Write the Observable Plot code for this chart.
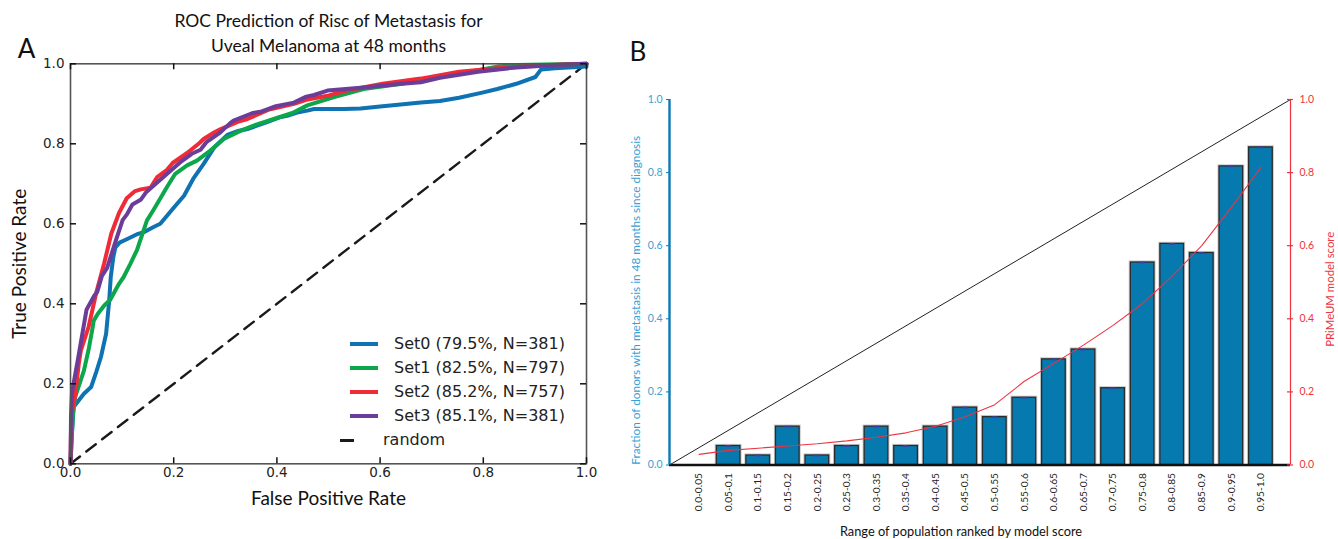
<!DOCTYPE html>
<html><head><meta charset="utf-8">
<script src="https://cdn.jsdelivr.net/npm/d3@7"></script>
<script src="https://cdn.jsdelivr.net/npm/@observablehq/plot@0.6"></script>
<style>
html,body{margin:0;padding:0;background:#fff;}
#wrap{position:relative;width:1338px;height:539px;overflow:hidden;background:#fff;}
#a{position:absolute;left:0;top:0;}
#b{position:absolute;left:600px;top:0;}
#legend{position:absolute;left:0;top:0;font-family:"DejaVu Sans";font-size:16px;color:#222;}
.row{position:absolute;height:20px;line-height:20px;white-space:nowrap;}
.sw{position:absolute;top:8px;height:4px;}
</style></head><body>
<div id="wrap"><div id="a"></div><div id="b"></div><div id="legend"></div></div>
<script>
// ---------- Panel A: ROC curves ----------
const setNames = ["Set0", "Set1", "Set2", "Set3"];
const setLabels = ["Set0 (79.5%, N=381)", "Set1 (82.5%, N=797)", "Set2 (85.2%, N=757)", "Set3 (85.1%, N=381)"];
const setColors = ["#0f72b3", "#0ca64b", "#ee2b37", "#6b3d99"];

const fpr0 = [0, 0.003, 0.006, 0.026, 0.04, 0.05, 0.059, 0.069, 0.075, 0.078, 0.083, 0.087, 0.095, 0.11, 0.131, 0.142, 0.161, 0.174, 0.2, 0.22, 0.239, 0.258, 0.278, 0.29, 0.304, 0.325, 0.343, 0.381, 0.405, 0.42, 0.442, 0.459, 0.472, 0.498, 0.531, 0.562, 0.605, 0.679, 0.716, 0.753, 0.798, 0.827, 0.864, 0.901, 0.912, 0.939, 1.0, 1.0];
const tpr0 = [0, 0.08, 0.142, 0.175, 0.192, 0.23, 0.267, 0.325, 0.408, 0.467, 0.517, 0.541, 0.553, 0.562, 0.575, 0.579, 0.592, 0.6, 0.64, 0.67, 0.715, 0.75, 0.79, 0.805, 0.822, 0.832, 0.837, 0.854, 0.866, 0.87, 0.879, 0.883, 0.887, 0.887, 0.887, 0.888, 0.894, 0.903, 0.907, 0.915, 0.928, 0.937, 0.95, 0.967, 0.986, 0.989, 0.993, 1.0];

const fpr1 = [0, 0.002, 0.005, 0.009, 0.026, 0.035, 0.042, 0.045, 0.053, 0.065, 0.077, 0.094, 0.103, 0.116, 0.129, 0.142, 0.148, 0.161, 0.168, 0.187, 0.203, 0.226, 0.245, 0.271, 0.297, 0.33, 0.36, 0.394, 0.43, 0.459, 0.511, 0.568, 0.642, 0.716, 0.79, 0.827, 0.864, 1.0];
const tpr1 = [0, 0.06, 0.127, 0.167, 0.233, 0.285, 0.334, 0.358, 0.375, 0.395, 0.41, 0.45, 0.467, 0.5, 0.535, 0.585, 0.608, 0.635, 0.65, 0.692, 0.725, 0.746, 0.758, 0.783, 0.812, 0.833, 0.848, 0.862, 0.877, 0.896, 0.917, 0.937, 0.95, 0.967, 0.984, 0.993, 0.997, 1.0];

const fpr2 = [0, 0.001, 0.003, 0.009, 0.016, 0.02, 0.035, 0.05, 0.065, 0.079, 0.094, 0.109, 0.124, 0.136, 0.155, 0.168, 0.187, 0.198, 0.226, 0.25, 0.258, 0.279, 0.29, 0.324, 0.343, 0.383, 0.433, 0.457, 0.498, 0.531, 0.605, 0.679, 0.753, 0.827, 0.901, 1.0];
const tpr2 = [0, 0.084, 0.13, 0.17, 0.25, 0.283, 0.342, 0.428, 0.5, 0.575, 0.627, 0.664, 0.681, 0.686, 0.69, 0.717, 0.735, 0.752, 0.777, 0.802, 0.812, 0.829, 0.836, 0.855, 0.862, 0.885, 0.9, 0.91, 0.92, 0.932, 0.95, 0.963, 0.98, 0.989, 0.996, 1.0];

const fpr3 = [0, 0.001, 0.003, 0.014, 0.031, 0.046, 0.052, 0.061, 0.071, 0.087, 0.101, 0.11, 0.12, 0.136, 0.146, 0.174, 0.205, 0.213, 0.235, 0.252, 0.264, 0.29, 0.309, 0.316, 0.353, 0.368, 0.398, 0.433, 0.457, 0.472, 0.498, 0.568, 0.642, 0.679, 0.716, 0.79, 0.864, 0.939, 1.0];
const tpr3 = [0, 0.12, 0.18, 0.258, 0.385, 0.42, 0.43, 0.47, 0.49, 0.555, 0.609, 0.625, 0.648, 0.66, 0.678, 0.71, 0.745, 0.754, 0.775, 0.785, 0.805, 0.828, 0.851, 0.858, 0.877, 0.88, 0.894, 0.903, 0.918, 0.922, 0.933, 0.941, 0.95, 0.954, 0.965, 0.98, 0.991, 0.997, 1.0];

const randomX = [0, 1];
const randomY = [0, 1];
const ticksA = [0, 0.2, 0.4, 0.6, 0.8, 1.0];

// ---------- Panel B: bars ----------
const binLabels = ["0.0-0.05","0.05-0.1","0.1-0.15","0.15-0.2","0.2-0.25","0.25-0.3","0.3-0.35","0.35-0.4","0.4-0.45","0.45-0.5","0.5-0.55","0.55-0.6","0.6-0.65","0.65-0.7","0.7-0.75","0.75-0.8","0.8-0.85","0.85-0.9","0.9-0.95","0.95-1.0"];
const fraction = [0, 0.052, 0.026, 0.105, 0.026, 0.052, 0.105, 0.052, 0.105, 0.157, 0.131, 0.184, 0.289, 0.316, 0.21, 0.554, 0.605, 0.58, 0.817, 0.869];
const modelScore = [0.029, 0.04, 0.046, 0.052, 0.058, 0.066, 0.076, 0.088, 0.106, 0.132, 0.165, 0.229, 0.278, 0.328, 0.382, 0.442, 0.517, 0.6, 0.705, 0.814];
const ticksB = [0, 0.2, 0.4, 0.6, 0.8, 1.0];

// ---------- build panel A ----------
const fprs = [fpr0, fpr1, fpr2, fpr3];
const tprs = [tpr0, tpr1, tpr2, tpr3];
const rocRows = setNames.flatMap((s, k) => fprs[k].map((x, i) => ({set: s, x, y: tprs[k][i]})));
const randomRows = randomX.map((x, i) => ({x, y: randomY[i]}));
const fmt1 = d => d.toFixed(1);
const mid = {textAnchor: "middle", lineAnchor: "middle"};

const WA = 620, HA = 539, mLA = 70, mRA = 34, mTA = 63.3, mBA = 75.7;
const fwA = WA - mLA - mRA, fhA = HA - mTA - mBA;

const plotA = Plot.plot({
  width: WA, height: HA,
  marginLeft: mLA, marginRight: mRA, marginTop: mTA, marginBottom: mBA,
  x: {domain: [0, 1]},
  y: {domain: [0, 1]},
  color: {domain: setNames, range: setColors},
  style: {fontFamily: "DejaVu Sans", fontSize: "13.5px", color: "#222", background: "transparent"},
  marks: [
    Plot.line(randomRows, {x: "x", y: "y", stroke: "#1a1a1a", strokeWidth: 2.4, strokeDasharray: "12,8"}),
    Plot.line(rocRows, {x: "x", y: "y", z: "set", stroke: "set", strokeWidth: 4, strokeLinejoin: "round"}),
    Plot.frame({stroke: "#555", strokeWidth: 1.6}),
    Plot.tickX(ticksA, {x: d => d, insetTop: fhA - 6, stroke: "#111", strokeWidth: 1.5}),
    Plot.tickX(ticksA, {x: d => d, insetBottom: fhA - 6, stroke: "#111", strokeWidth: 1.5}),
    Plot.tickY(ticksA, {y: d => d, insetRight: fwA - 6, stroke: "#111", strokeWidth: 1.5}),
    Plot.tickY(ticksA, {y: d => d, insetLeft: fwA - 6, stroke: "#111", strokeWidth: 1.5}),
    Plot.axisX({ticks: ticksA, tickFormat: fmt1, tickSize: 0, tickPadding: 4, label: null, fill: "#222"}),
    Plot.axisY({ticks: ticksA, tickFormat: fmt1, tickSize: 0, tickPadding: 6, label: null, fill: "#222"}),
    Plot.text(["False Positive Rate"], {...mid, text: d => d, frameAnchor: "bottom", dy: 35, fontFamily: "Lato", fontSize: 19, fill: "#111"}),
    Plot.text(["True Positive Rate"], {...mid, text: d => d, frameAnchor: "left", rotate: -90, dx: -51, fontFamily: "Lato", fontSize: 19, fill: "#111"}),
    Plot.text(["ROC Prediction of Risc of Metastasis for"], {...mid, text: d => d, frameAnchor: "top", dy: -42, fontFamily: "Lato", fontSize: 17.5, fill: "#111"}),
    Plot.text(["Uveal Melanoma at 48 months"], {...mid, text: d => d, frameAnchor: "top", dy: -17, fontFamily: "Lato", fontSize: 17.5, fill: "#111"}),
    Plot.text(["A"], {...mid, text: d => d, frameAnchor: "top-left", dx: -44, dy: -14.5, fontFamily: "Lato", fontSize: 26, fill: "#111"})
  ]
});
document.getElementById("a").appendChild(plotA);

// legend (HTML)
const legend = document.getElementById("legend");
const legRowsY = [344, 368, 392, 416];
setLabels.forEach((lab, k) => {
  const r = document.createElement("div");
  r.className = "row";
  r.style.left = "350px"; r.style.top = (legRowsY[k] - 10) + "px";
  r.innerHTML = `<span class="sw" style="left:0;width:28px;background:${setColors[k]}"></span><span style="position:absolute;left:44px;">${lab}</span>`;
  legend.appendChild(r);
});
{
  const r = document.createElement("div");
  r.className = "row";
  r.style.left = "340px"; r.style.top = (440 - 10) + "px";
  r.innerHTML = `<span class="sw" style="left:0;width:14px;height:3px;top:9px;background:#1a1a1a"></span><span style="position:absolute;left:43px;">random</span>`;
  legend.appendChild(r);
}

// ---------- build panel B ----------
const WB = 738, HB = 539, mLB = 69, mRB = 48, mTB = 99, mBB = 74.5;
const fwB = WB - mLB - mRB;
const xDom = [-1, binLabels.length];
const idx = binLabels.map((_, i) => i);
const barRows = idx.map(i => ({i, frac: fraction[i], score: modelScore[i]}));
const diagRows = [{x: xDom[0], y: 0}, {x: xDom[1], y: 1}];
const blueAxis = "#0b7ab6", blueText = "#3a9fd4", redC = "#ee3340";

const plotB = Plot.plot({
  width: WB, height: HB,
  marginLeft: mLB, marginRight: mRB, marginTop: mTB, marginBottom: mBB,
  x: {domain: xDom},
  y: {domain: [0, 1]},
  style: {fontFamily: "Lato", fontSize: "10px", background: "transparent"},
  marks: [
    Plot.line(diagRows, {x: "x", y: "y", stroke: "#222", strokeWidth: 1}),
    Plot.rectY(barRows, {x1: d => d.i - 0.4, x2: d => d.i + 0.4, y1: 0, y2: "frac", fill: "none", stroke: "#c9c9c9", strokeWidth: 3.2}),
    Plot.rectY(barRows, {x1: d => d.i - 0.4, x2: d => d.i + 0.4, y1: 0, y2: "frac", fill: "#0679af", stroke: "#2b2b2b", strokeWidth: 1.3}),
    Plot.ruleY(barRows, {x1: d => d.i - 0.1, x2: d => d.i + 0.1, y: "frac", stroke: "#3a3fa8", strokeWidth: 1.8}),
    Plot.line(barRows, {x: "i", y: "score", stroke: redC, strokeWidth: 1.1}),
    Plot.ruleY([0], {x1: xDom[0], x2: xDom[1], stroke: "#111", strokeWidth: 2.6}),
    Plot.ruleX([xDom[0]], {y1: 0, y2: 1, stroke: blueAxis, strokeWidth: 2.4}),
    Plot.ruleX([xDom[1]], {y1: 0, y2: 1, stroke: redC, strokeWidth: 1.2}),
    Plot.axisY({anchor: "left", ticks: ticksB, tickFormat: fmt1, tickSize: 3, tickPadding: 4, label: null, stroke: blueAxis, fill: blueText, fontSize: 10.5}),
    Plot.tickY(ticksB, {y: d => d, insetLeft: fwB - 3, insetRight: -3, stroke: redC, strokeWidth: 1.2}),
    Plot.axisY({anchor: "right", ticks: ticksB, tickFormat: fmt1, tickSize: 0, tickPadding: 9, label: null, fill: redC, fontSize: 10.5}),
    Plot.axisX({ticks: idx, tickFormat: i => binLabels[i], tickRotate: -90, tickSize: 0, tickPadding: 8, label: null, fill: "#222", fontSize: 10.2}),
    Plot.text(["Range of population ranked by model score"], {...mid, text: d => d, frameAnchor: "bottom", dy: 67, dx: -19, fontFamily: "Lato", fontSize: 12.8, fill: "#111"}),
    Plot.text(["Fraction of donors with metastasis in 48 months since diagnosis"], {...mid, text: d => d, frameAnchor: "left", rotate: -90, dx: -33, dy: 18, fontFamily: "Lato", fontSize: 11.8, fill: blueText}),
    Plot.text(["PRiMeUM model score"], {...mid, text: d => d, frameAnchor: "right", rotate: -90, dx: 40, dy: 7, fontFamily: "Lato", fontSize: 11.4, fill: redC}),
    Plot.text(["B"], {...mid, text: d => d, frameAnchor: "top-left", dx: -31.5, dy: -46.5, fontFamily: "Lato", fontSize: 26, fill: "#111"})
  ]
});
document.getElementById("b").appendChild(plotB);
</script>
</body></html>
